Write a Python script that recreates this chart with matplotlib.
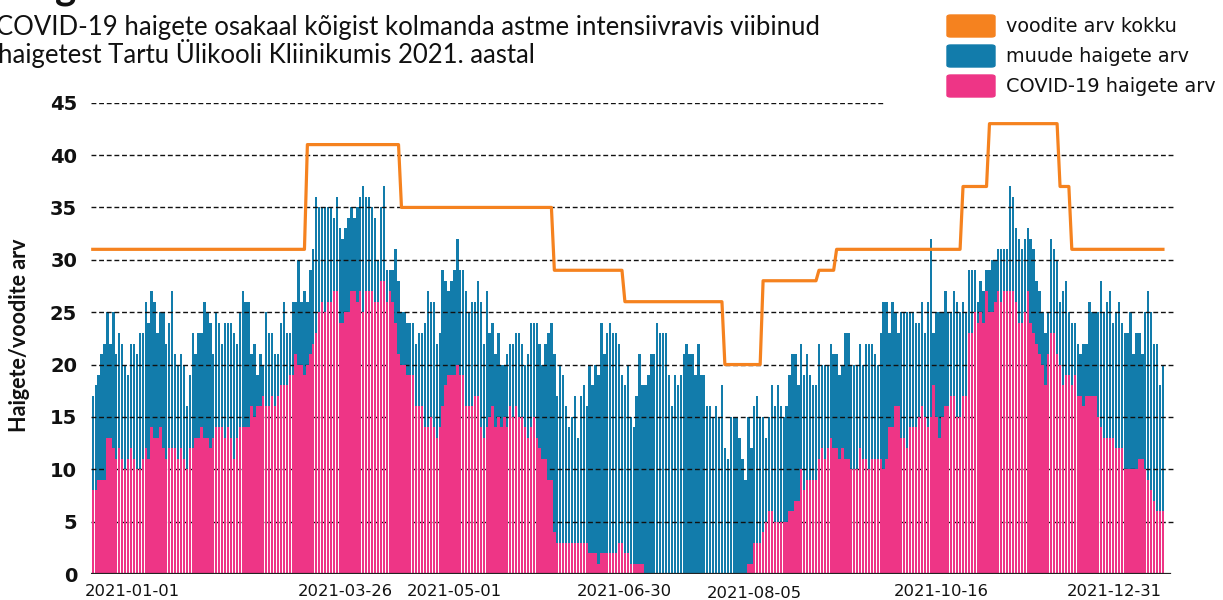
import numpy as np
import matplotlib.pyplot as plt
from matplotlib.patches import FancyBboxPatch
from matplotlib.transforms import ScaledTranslation

plt.rcParams['font.family'] = ['Lato', 'DejaVu Sans']

# haigete arv kokku ja COVID-19 haigete arv päevade kaupa (2021-01-01 ... 2021-12-31)
kokku_jaan_mar = [17, 18, 19, 21, 22, 25, 22, 25, 21, 23, 22, 20, 19, 22, 22, 21, 23, 23, 26, 24,
                  27, 26, 23, 25, 25, 22, 24, 27, 21, 20, 21, 20, 16, 19, 23, 21, 23, 23, 26, 25,
                  24, 21, 25, 24, 22, 24, 24, 24, 23, 22, 25, 27, 26, 26, 21, 22, 19, 21, 20, 25,
                  23, 23, 21]
covid_jaan_mar = [8, 8, 9, 9, 9, 13, 13, 12, 11, 12, 11, 10, 11, 12, 11, 10, 10, 11, 12, 11,
                  14, 13, 13, 14, 12, 11, 12, 12, 12, 11, 12, 11, 10, 12, 12, 13, 13, 14, 13, 13,
                  12, 13, 14, 14, 14, 13, 14, 13, 11, 13, 14, 14, 14, 14, 16, 15, 16, 16, 17, 16,
                  16, 17, 16]

kokku_mar_mai = [21, 24, 26, 23, 23, 26, 26, 30, 26, 27, 26, 29, 31, 36, 35, 35, 35, 35, 35, 34,
                 36, 33, 32, 33, 34, 35, 34, 35, 36, 37, 36, 36, 35, 34, 30, 35, 37, 29, 29, 29,
                 31, 28, 25, 25, 24, 24, 24, 22, 23, 23, 24, 27, 26, 26, 22, 23, 29, 28, 27, 28,
                 29, 32]
covid_mar_mai = [17, 18, 18, 18, 19, 19, 21, 20, 20, 19, 20, 21, 22, 23, 25, 26, 25, 26, 26, 27,
                 27, 24, 24, 25, 25, 27, 27, 26, 27, 25, 27, 27, 27, 26, 26, 28, 28, 26, 27, 26,
                 24, 21, 20, 20, 19, 19, 19, 16, 16, 16, 14, 14, 15, 14, 13, 14, 16, 18, 19, 19,
                 19, 20]

kokku_mai_jul = [29, 29, 27, 25, 26, 26, 28, 26, 22, 27, 23, 24, 21, 23, 20, 20, 21, 22, 22, 23,
                 23, 22, 20, 21, 24, 24, 24, 22, 20, 22, 23, 24, 21, 17, 20, 19, 16, 14, 15, 17,
                 13, 17, 18, 16, 20, 18, 20, 19, 24, 21, 23, 24, 23, 23, 22, 19, 18, 20, 15, 14,
                 17, 21]
covid_mai_jul = [19, 19, 16, 16, 16, 17, 17, 14, 13, 14, 15, 16, 14, 15, 14, 15, 14, 16, 15, 16,
                 15, 15, 14, 13, 14, 15, 13, 12, 11, 11, 9, 9, 4, 3, 3, 3, 3, 3, 3, 3,
                 3, 3, 3, 3, 2, 2, 2, 1, 2, 2, 2, 2, 2, 2, 3, 3, 2, 2, 1, 1,
                 1, 1]

kokku_jul_sept = [18, 18, 19, 21, 21, 24, 23, 23, 23, 19, 16, 19, 18, 19, 21, 22, 21, 21, 19, 22,
                  19, 19, 16, 16, 15, 16, 15, 18, 12, 11, 15, 15, 15, 13, 11, 9, 15, 12, 16, 17,
                  15, 15, 13, 15, 18, 16, 18, 16, 15, 16, 19, 21, 21, 18, 22, 19, 21, 19, 18, 18,
                  22, 20]
covid_jul_sept = [1, 0, 0, 0, 0, 0, 0, 0, 0, 0, 0, 0, 0, 0, 0, 0, 0, 0, 0, 0,
                  0, 0, 0, 0, 0, 0, 0, 0, 0, 0, 0, 0, 0, 0, 0, 0, 1, 1, 3, 3,
                  3, 4, 5, 6, 6, 5, 5, 5, 5, 5, 6, 6, 7, 7, 10, 8, 9, 9, 9, 9,
                  11, 12]

kokku_sept_nov = [20, 20, 22, 21, 21, 19, 20, 23, 23, 20, 20, 20, 22, 20, 22, 22, 22, 21, 20, 23,
                  26, 26, 23, 26, 25, 23, 25, 25, 25, 25, 25, 24, 24, 26, 23, 26, 32, 23, 25, 25,
                  25, 27, 25, 25, 27, 26, 25, 26, 25, 29, 29, 29, 26, 28, 27, 29, 29, 30, 30, 31,
                  31]
covid_sept_nov = [11, 12, 13, 12, 12, 11, 12, 11, 11, 10, 10, 10, 12, 11, 11, 10, 11, 11, 11, 11,
                  10, 11, 14, 14, 16, 16, 13, 13, 12, 14, 14, 14, 15, 16, 15, 14, 15, 18, 15, 13,
                  15, 16, 16, 17, 17, 15, 15, 17, 17, 23, 23, 25, 24, 25, 24, 27, 25, 25, 26, 27,
                  26]

kokku_nov_dets = [31, 31, 37, 36, 33, 32, 31, 32, 33, 32, 31, 28, 27, 25, 23, 25, 32, 31, 30, 26,
                  27, 28, 25, 24, 24, 22, 21, 22, 22, 26, 25, 25, 25, 28, 25, 26, 27, 24, 25, 26,
                  24, 23, 23, 25, 21, 23, 23, 21, 25, 27, 25, 22, 22, 18, 20]
covid_nov_dets = [27, 27, 27, 27, 26, 24, 24, 25, 27, 24, 23, 22, 21, 20, 18, 21, 23, 23, 21, 20,
                  18, 19, 19, 18, 19, 17, 17, 16, 17, 17, 17, 17, 15, 14, 13, 13, 13, 13, 12, 12,
                  12, 10, 10, 10, 10, 10, 11, 11, 10, 9, 8, 7, 6, 6, 6]

# voodite arv: väärtus ja mitu päeva see kehtis
voodid = [31, 41, 35, 29, 26, 20, 28, 29, 31, 37, 43, 37, 31]
voodid_paevi = [73, 32, 52, 24, 34, 13, 19, 6, 43, 9, 24, 4, 32]

tick_paevad = [0, 84, 120, 180, 216, 288, 364]
tick_sildid = ['2021-01-01', '2021-03-26', '2021-05-01', '2021-06-30',
               '2021-08-05', '2021-10-16', '2021-12-31']

kokku = np.array(kokku_jaan_mar + kokku_mar_mai + kokku_mai_jul + kokku_jul_sept
                 + kokku_sept_nov + kokku_nov_dets)
covid = np.array(covid_jaan_mar + covid_mar_mai + covid_mai_jul + covid_jul_sept
                 + covid_sept_nov + covid_nov_dets)
assert len(kokku) == 365 and len(covid) == 365
voodite_arv = np.repeat(voodid, voodid_paevi)
paev = np.arange(len(kokku))

oranz = '#F5821F'
sinine = '#127CAB'
roosa = '#EE3586'
tekst = '#111111'

W, H = 1223, 600
fig = plt.figure(figsize=(W / 100, H / 100), dpi=100)
ax = fig.add_axes([91 / W, 26 / H, 1084 / W, 471.3 / H])

ax.bar(paev, kokku, width=0.8, color=sinine, zorder=1)
for v in range(5, 45, 5):
    ax.axhline(v, color=tekst, lw=1.0, ls=(0, (3.5, 2)), zorder=2)
ax.axhline(45, xmax=0.7325, color=tekst, lw=1.0, ls=(0, (3.5, 2)), zorder=2)
ax.bar(paev, covid, width=0.8, color=roosa, zorder=3)
ax.plot(paev, voodite_arv, color=oranz, lw=2.3, zorder=4)
ax.axhline(0, xmax=0.9954, color='#222222', lw=1.6, zorder=5)

ax.set_xlim(-0.6, 368.1)
ax.set_ylim(0, 45)
for s in ax.spines.values():
    s.set_visible(False)
ax.set_yticks(range(0, 46, 5))
ax.tick_params(axis='y', length=0, pad=10)
for t in ax.get_yticklabels():
    t.set_fontfamily('DejaVu Sans')
    t.set_fontweight('bold')
    t.set_fontsize(14)
    t.set_color(tekst)
ax.set_xticks(tick_paevad)
ax.set_xticklabels(tick_sildid)
ax.tick_params(axis='x', length=0, pad=7.5)
nihe = [(40, 0), (6, 0), (9, 0), (2, 0), (26, -2), (2, 0), (-49, 0)]
for t, (dx, dy) in zip(ax.get_xticklabels(), nihe):
    t.set_fontfamily('DejaVu Sans')
    t.set_fontsize(11.8)
    t.set_color(tekst)
    t.set_transform(t.get_transform() + ScaledTranslation(dx / 100, dy / 100, fig.dpi_scale_trans))

fig.text(20 / W, 1 - 335 / H, 'Haigete/voodite arv', rotation=90, ha='center', va='center',
         fontsize=15.5, fontweight='bold', color=tekst)

fig.text(55 / W, 1 + 1 / H, 'g', fontsize=29, fontweight='bold', va='baseline', ha='left',
         color=tekst)
fig.text(-4 / W, 1 - 35 / H,
         'COVID-19 haigete osakaal kõigist kolmanda astme intensiivravis viibinud',
         fontsize=18.5, va='baseline', ha='left', color=tekst)
fig.text(-2 / W, 1 - 63 / H, 'haigetest Tartu Ülikooli Kliinikumis 2021. aastal',
         fontsize=18.5, va='baseline', ha='left', color=tekst)

legend = [('voodite arv kokku', oranz), ('muude haigete arv', sinine),
          ('COVID-19 haigete arv', roosa)]
for i, (nimi, varv) in enumerate(legend):
    y0 = 15 + 30 * i
    fig.add_artist(FancyBboxPatch((947 / W, 1 - (y0 + 22) / H), 48 / W, 22 / H,
                                  boxstyle='round,pad=0,rounding_size=0.003',
                                  transform=fig.transFigure, color=varv))
    fig.text(1006 / W, 1 - (y0 + 11) / H, nimi, fontsize=13.9, va='center', ha='left',
             color=tekst, family='DejaVu Sans')

fig.savefig('out.png', dpi=100)
